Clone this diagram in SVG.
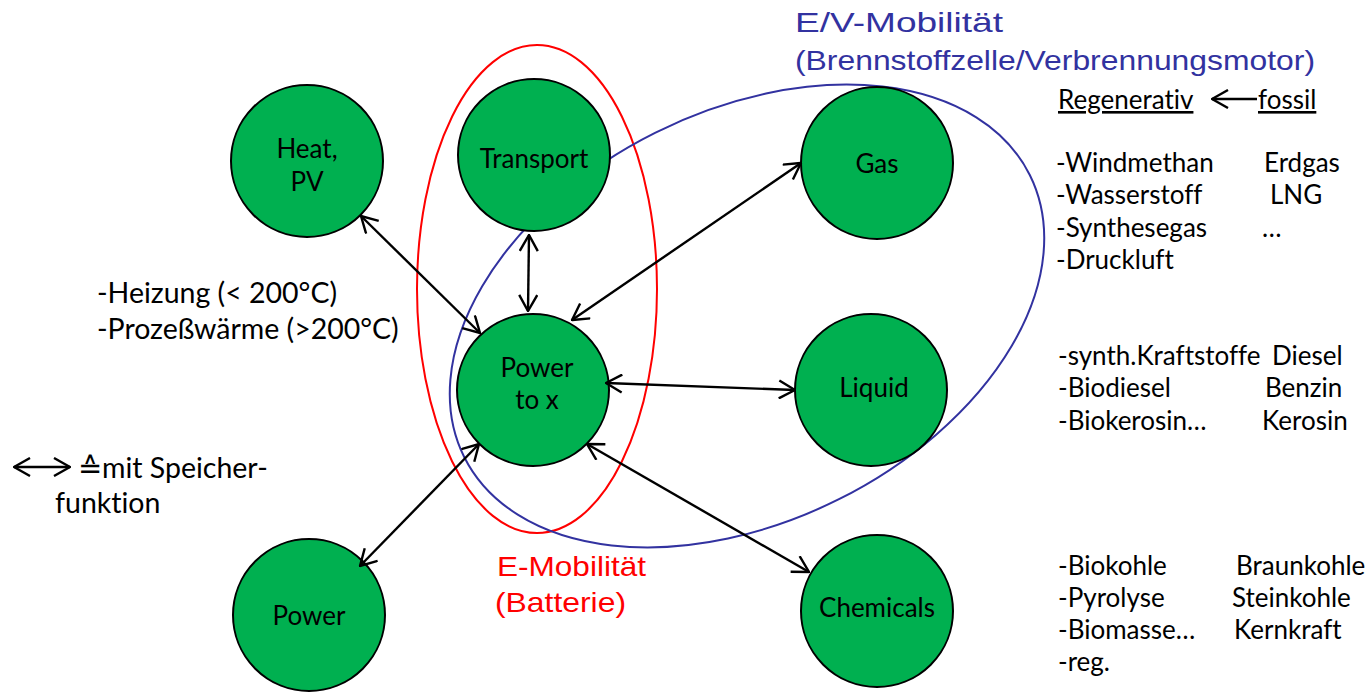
<svg xmlns="http://www.w3.org/2000/svg" width="1369" height="692" viewBox="0 0 1369 692">
<defs>
<marker id="ah" viewBox="0 0 18 20" refX="17" refY="10" markerWidth="18" markerHeight="20" markerUnits="userSpaceOnUse" orient="auto-start-reverse">
<path d="M1,1 L17,10 L1,19" fill="none" stroke="#000" stroke-width="2.4"/>
</marker>
<style>
text{font-variant-ligatures:none}
.node{fill:#00B050;stroke:#000;stroke-width:2}
.nl{font-family:Lato,"Noto Sans",sans-serif;font-size:26px;fill:#000;text-anchor:middle}
.t{font-family:Lato,"Noto Sans",sans-serif;font-size:26px;fill:#000}
.tl{font-family:Lato,"Noto Sans",sans-serif;font-size:28.5px;fill:#000}
.conn line{stroke:#000;stroke-width:2.4;marker-start:url(#ah);marker-end:url(#ah)}
.blue{font-family:"Liberation Sans",Arial,sans-serif;font-size:28px;fill:#3232A0}
.red{font-family:"Liberation Sans",Arial,sans-serif;font-size:28px;fill:#FF0000}
</style>
</defs>
<rect width="1369" height="692" fill="#fff"/>

<g id="e-mobilitaet">
<ellipse cx="537" cy="289" rx="120" ry="244" fill="none" stroke="#FF0000" stroke-width="2"/>
<text class="red" x="497" y="576" textLength="149" lengthAdjust="spacingAndGlyphs">E-Mobilität</text>
<text class="red" x="495" y="612" textLength="131" lengthAdjust="spacingAndGlyphs">(Batterie)</text>
</g>
<g id="ev-mobilitaet">
<ellipse cx="747" cy="316" rx="316" ry="205" transform="rotate(-26.5 747 316)" fill="none" stroke="#3232A0" stroke-width="2"/>
<text class="blue" x="795" y="32" textLength="208" lengthAdjust="spacingAndGlyphs">E/V-Mobilität</text>
<text class="blue" x="795" y="70" textLength="520" lengthAdjust="spacingAndGlyphs">(Brennstoffzelle/Verbrennungsmotor)</text>
</g>

<g id="heat"><circle class="node" cx="307" cy="161" r="76"/><text class="nl" x="307" y="158">Heat,</text><text class="nl" x="307" y="191">PV</text></g>
<g id="transport"><circle class="node" cx="534" cy="155" r="76"/><text class="nl" x="534" y="168">Transport</text></g>
<g id="gas"><circle class="node" cx="877" cy="163" r="76"/><text class="nl" x="877" y="173">Gas</text></g>
<g id="powertox"><circle class="node" cx="533" cy="390" r="76"/><text class="nl" x="537" y="377">Power</text><text class="nl" x="537" y="409">to x</text></g>
<g id="liquid"><circle class="node" cx="871" cy="390" r="76"/><text class="nl" x="874" y="397">Liquid</text></g>
<g id="chemicals"><circle class="node" cx="877" cy="611" r="76"/><text class="nl" x="877" y="617">Chemicals</text></g>
<g id="power"><circle class="node" cx="309" cy="615" r="76"/><text class="nl" x="309" y="625">Power</text></g>

<g id="connectors" class="conn">
<line x1="361" y1="216" x2="480" y2="333"/>
<line x1="529" y1="235" x2="528" y2="311"/>
<line x1="801" y1="163" x2="572" y2="320"/>
<line x1="606" y1="383" x2="795" y2="390"/>
<line x1="587" y1="444" x2="809" y2="572"/>
<line x1="479" y1="444" x2="360" y2="566"/>
</g>

<g id="heat-notes">
<text class="tl" x="97" y="303">-Heizung (&lt; 200°C)</text>
<text class="tl" x="97" y="339">-Prozeßwärme (&gt;200°C)</text>
</g>

<g id="legend">
<line x1="14" y1="467" x2="70" y2="467" stroke="#000" stroke-width="2.4" marker-start="url(#ah)" marker-end="url(#ah)"/>
<text class="tl" x="78" y="478">≙mit Speicher-</text>
<text class="tl" x="55" y="513">funktion</text>
</g>

<g id="gas-list">
<text class="t" x="1058" y="109" text-decoration="underline">Regenerativ</text>
<line x1="1212" y1="99" x2="1257" y2="99" stroke="#000" stroke-width="2.4" marker-start="url(#ah)"/>
<text class="t" x="1258" y="109" text-decoration="underline">fossil</text>
<text class="t" x="1056" y="172">-Windmethan</text><text class="t" x="1264" y="172">Erdgas</text>
<text class="t" x="1056" y="204">-Wasserstoff</text><text class="t" x="1270" y="204">LNG</text>
<text class="t" x="1056" y="237">-Synthesegas</text><text class="t" x="1262" y="237">…</text>
<text class="t" x="1056" y="269">-Druckluft</text>
</g>
<g id="liquid-list">
<text class="t" x="1058" y="365">-synth.Kraftstoffe</text><text class="t" x="1272" y="365">Diesel</text>
<text class="t" x="1058" y="397">-Biodiesel</text><text class="t" x="1265" y="397">Benzin</text>
<text class="t" x="1058" y="430">-Biokerosin…</text><text class="t" x="1262" y="430">Kerosin</text>
</g>
<g id="chemicals-list">
<text class="t" x="1058" y="575">-Biokohle</text><text class="t" x="1236" y="575">Braunkohle</text>
<text class="t" x="1058" y="607">-Pyrolyse</text><text class="t" x="1232" y="607">Steinkohle</text>
<text class="t" x="1058" y="639">-Biomasse…</text><text class="t" x="1234" y="639">Kernkraft</text>
<text class="t" x="1058" y="671">-reg.</text>
</g>
</svg>
